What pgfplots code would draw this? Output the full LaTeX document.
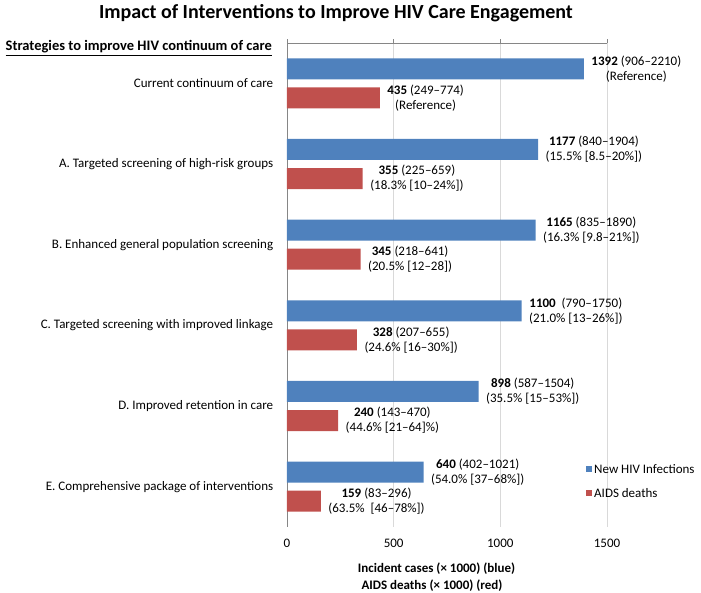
\documentclass[border=0pt]{standalone}
\usepackage{pgfplots}
\pgfplotsset{compat=1.18}
\usepackage{fontspec}
\setmainfont{Carlito}
\definecolor{blueB}{HTML}{4F81BD}
\definecolor{redB}{HTML}{C0504D}
\definecolor{axgray}{HTML}{868686}
\definecolor{gridgray}{HTML}{D9D9D9}
\newcommand{\fs}{\fontsize{13}{15}\selectfont}
\begin{document}
\begin{tikzpicture}
\useasboundingbox (-287pt,-65pt) rectangle (414pt,527pt);
\begin{axis}[
  name=ax, at={(0pt,0pt)}, anchor=south west,
  scale only axis, width=320pt, height=484pt,
  xmin=0, xmax=1500, ymin=-0.5, ymax=5.5, y dir=reverse,
  xbar, bar width=21pt, bar shift=0pt,
  axis x line*=bottom,
  axis y line*=left,
  x axis line style={draw=none},
  y axis line style={draw=axgray},
  xtick={0,500,1000,1500},
  xtick style={draw=none},
  xmajorgrids, grid style={gridgray, thin},
  ytick={0,1,2,3,4,5},
  yticklabels={Current continuum of care, A. Targeted screening of high-risk groups, B. Enhanced general population screening, C. Targeted screening with improved linkage, D. Improved retention in care, E. Comprehensive package of interventions},
  ytick style={draw=none},
  yticklabel style={font=\fs, xshift=-6pt},
  xticklabel style={font=\fs, yshift=-9pt},
  /pgf/number format/assume math mode=true,
  /pgf/number format/1000 sep={},
  clip=false,
  nodes near coords, point meta=explicit symbolic,
  every node near coord/.append style={font=\fs, align=center, anchor=west, xshift=4pt},
  legend style={draw=none, fill=none, font=\fs, at={(rel axis cs:0.925,0.1385)}, anchor=north west, row sep=9.5pt, legend cell align=left},
  legend image code/.code={\fill[#1] (0pt,-3pt) rectangle (6pt,3pt);},
]
\addplot[fill=blueB, draw=none] coordinates {
  (1392,-0.18) [{\textbf{1392} (906–2210)\\(Reference)}]
  (1177,0.82) [{\textbf{1177} (840–1904)\\(15.5\% [8.5–20\%])}]
  (1165,1.82) [{\textbf{1165} (835–1890)\\(16.3\% [9.8–21\%])}]
  (1100,2.82) [{\textbf{1100}\ \ (790–1750)\\(21.0\% [13–26\%])}]
  (898,3.82) [{\textbf{898} (587–1504)\\(35.5\% [15–53\%])}]
  (640,4.82) [{\textbf{640} (402–1021)\\(54.0\% [37–68\%])}]
};
\addlegendentry{New HIV Infections}
\addplot[fill=redB, draw=none] coordinates {
  (435,0.18) [{\textbf{435} (249–774)\\(Reference)}]
  (355,1.18) [{\textbf{355} (225–659)\\(18.3\% [10–24\%])}]
  (345,2.18) [{\textbf{345} (218–641)\\(20.5\% [12–28])}]
  (328,3.18) [{\textbf{328} (207–655)\\(24.6\% [16–30\%])}]
  (240,4.18) [{\textbf{240} (143–470)\\(44.6\% [21–64]\%)}]
  (159,5.18) [{\textbf{159} (83–296)\\(63.5\%\ \ [46–78\%])}]
};
\addlegendentry{AIDS deaths}
\end{axis}
\draw[axgray, thin] (0pt,484pt) -- (320pt,484pt);
\foreach \t in {0,106.667,213.333,320} {\draw[axgray, thin] (\t pt,484pt) -- (\t pt,488pt);}
\node[font=\bfseries\fontsize{20}{22}\selectfont, anchor=base] at (49pt,508pt) {Impact of Interventions to Improve HIV Care Engagement};
\node[font=\bfseries\fontsize{14.5}{16}\selectfont, anchor=base east, inner sep=0pt] at (-15pt,476pt) {\underline{Strategies to improve HIV continuum of care}};
\node[font=\bfseries\fs, anchor=base, inner sep=0pt] at (149.5pt,-45pt) {Incident cases (× 1000) (blue)};
\node[font=\bfseries\fs, anchor=base, inner sep=0pt] at (145pt,-62pt) {AIDS deaths (× 1000) (red)};
\end{tikzpicture}
\end{document}
